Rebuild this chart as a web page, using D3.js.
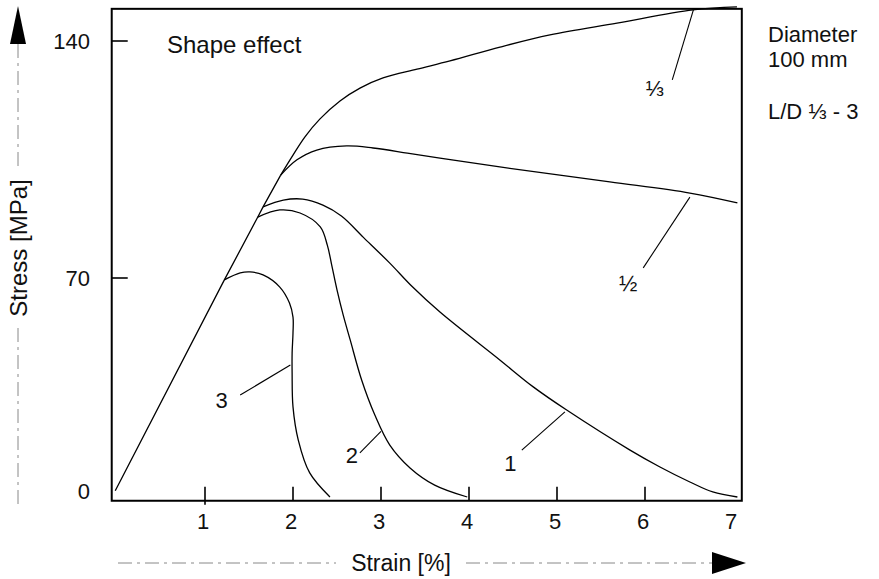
<!DOCTYPE html>
<html>
<script src="https://d3js.org/d3.v7.min.js"></script>
<style>
  body { margin: 0; background: #fff; }
  text { font-family: "Liberation Sans", Arial, sans-serif; fill: #111; }
</style>
<body>
<div id="chart"></div>

<script>
    // values (strain in %, stress in MPa)
    var strainTicks = [1, 2, 3, 4, 5, 6, 7];
    var stressTicks = [0, 70, 140];

    // shared elastic rise, branch points are on it
    var elastic = [[-0.02, 2], [1.22, 69.4], [1.60, 88.0], [1.66, 91.0], [1.86, 100.4]];

    var curve3 = [[1.22, 69.4], [1.40, 71.5], [1.51, 71.8], [1.66, 70.9], [1.85, 67.1], [1.96, 62.0],
        [2.0, 57.5], [2.0, 52.4], [1.99, 46.0], [1.99, 39.6], [2.0, 28.8], [2.06, 18.2], [2.19, 7.7], [2.42, 0]];
    var curve2 = [[1.60, 88.0], [1.85, 90.1], [2.08, 89.2], [2.31, 85.1], [2.39, 79.7], [2.44, 73.8],
        [2.50, 66.2], [2.57, 58.2], [2.65, 50.2], [2.78, 37.4], [2.93, 26.2], [3.10, 16.6], [3.33, 9.3],
        [3.61, 3.8], [3.98, 0]];
    var curve1 = [[1.66, 91.0], [1.89, 93.0], [2.11, 93.3], [2.34, 91.5], [2.55, 88.3], [2.80, 82.0],
        [3.10, 74.4], [3.36, 67.1], [3.67, 59.1], [4.35, 43.8], [4.73, 35.2], [5.11, 27.8],
        [5.83, 15.0], [6.17, 9.6], [6.51, 4.8], [6.77, 1.6], [7.05, 0]];
    var curveHalf = [[1.86, 100.4], [2.045, 104.9], [2.27, 107.8], [2.61, 109.0], [2.91, 108.4],
        [3.30, 106.9], [3.67, 105.4], [4.35, 102.8], [5.60, 98.4], [6.51, 95.1], [7.05, 92.2]];
    var curveThird = [[1.86, 100.4], [2.0, 106.3], [2.136, 111.7], [2.307, 117.0], [2.534, 122.3],
        [2.761, 126.1], [3.023, 129.1], [3.409, 131.7], [3.784, 134.1], [4.352, 138.2], [4.92, 141.8],
        [5.682, 145.3], [6.545, 149.2], [7.045, 150.1]];

    // curve labels: text, label position, leader from / to
    var curveLabels = ["\u2153", "\u00bd", "1", "2", "3"];
    var labelAt = [[6.11, 126.1], [5.81, 68.4], [4.47, 10.9], [2.67, 13.4], [1.19, 31.0]];
    var leaderFrom = [[6.31, 128.5], [5.98, 73.0], [4.60, 15.0], [2.76, 14.1], [1.40, 32.6]];
    var leaderTo = [[6.55, 149.2], [6.51, 93.9], [5.09, 27.2], [3.0, 21.0], [1.97, 42.2]];

    var width = 879, height = 579;

    var svg = d3.select("#chart")
        .append("svg")
        .attr("width", width)
        .attr("height", height);

    var x = d3.scaleLinear().domain([0, 7]).range([117, 733]);
    // the printed stress axis is not evenly spaced, so piecewise
    var y = d3.scaleLinear().domain([0, 70, 140]).range([497, 278, 41]);

    var x0 = x(-0.06), x1 = x(7.1), y0 = y(-1.2), y1 = y(149.5);

    // frame
    svg.append("rect")
        .attr("x", x0).attr("y", y1)
        .attr("width", x1 - x0).attr("height", y0 - y1)
        .attr("fill", "none").attr("stroke", "#000").attr("stroke-width", 2);

    // inward ticks
    svg.selectAll(".xtick")
        .data(strainTicks.filter(d => d < 7))
        .join("line")
        .attr("x1", d => x(d)).attr("x2", d => x(d))
        .attr("y1", d => d === 1 ? y0 + 4 : y0).attr("y2", y0 - 14)
        .attr("stroke", "#000").attr("stroke-width", 1.6);

    svg.selectAll(".ytick")
        .data(stressTicks.filter(d => d > 0))
        .join("line")
        .attr("x1", x0).attr("x2", x0 + 16)
        .attr("y1", d => y(d)).attr("y2", d => y(d))
        .attr("stroke", "#000").attr("stroke-width", 1.6);

    svg.selectAll(".xlab")
        .data(strainTicks)
        .join("text")
        .attr("x", d => x(d) - 2)
        .attr("y", y0 + 28)
        .attr("text-anchor", "middle")
        .attr("font-size", 22)
        .text(d => d);

    svg.selectAll(".ylab")
        .data(stressTicks)
        .join("text")
        .attr("x", 90)
        .attr("y", d => y(d) + (d === 0 ? 2 : 8))
        .attr("text-anchor", "end")
        .attr("font-size", 22)
        .text(d => d);

    // curves
    var line = d3.line()
        .x(d => x(d[0]))
        .y(d => y(d[1]))
        .curve(d3.curveCatmullRom.alpha(0.5));

    svg.append("path")
        .attr("d", d3.line().x(d => x(d[0])).y(d => y(d[1]))(elastic))
        .attr("fill", "none").attr("stroke", "#000").attr("stroke-width", 1.3);

    [curve3, curve2, curve1, curveHalf, curveThird].forEach(function (c) {
        svg.append("path")
            .attr("d", line(c))
            .attr("fill", "none").attr("stroke", "#000").attr("stroke-width", 1.3);
    });

    // leaders + labels
    curveLabels.forEach(function (t, i) {
        svg.append("line")
            .attr("x1", x(leaderFrom[i][0])).attr("y1", y(leaderFrom[i][1]))
            .attr("x2", x(leaderTo[i][0])).attr("y2", y(leaderTo[i][1]))
            .attr("stroke", "#000").attr("stroke-width", 1.1);
        svg.append("text")
            .attr("x", x(labelAt[i][0]))
            .attr("y", y(labelAt[i][1]) + 8)
            .attr("text-anchor", "middle")
            .attr("font-size", 22)
            .text(t);
    });

    // annotations
    svg.append("text").attr("x", 167).attr("y", 53).attr("font-size", 24).text("Shape effect");
    svg.append("text").attr("x", 768).attr("y", 42).attr("font-size", 22).text("Diameter");
    svg.append("text").attr("x", 768).attr("y", 67).attr("font-size", 22).text("100 mm");
    svg.append("text").attr("x", 768).attr("y", 119).attr("font-size", 22).text("L/D \u2153 - 3");

    // axis titles with dashed arrows
    svg.append("text")
        .attr("transform", "translate(27,248) rotate(-90)")
        .attr("text-anchor", "middle")
        .attr("font-size", 24)
        .text("Stress [MPa]");

    var dash = { stroke: "#888", "stroke-width": 1, "stroke-dasharray": "14,5,3,5" };
    function dashed(xa, ya, xb, yb) {
        var l = svg.append("line").attr("x1", xa).attr("y1", ya).attr("x2", xb).attr("y2", yb);
        Object.keys(dash).forEach(k => l.attr(k, dash[k]));
    }
    dashed(18, 44, 18, 168);
    dashed(18, 328, 18, 505);
    svg.append("path").attr("d", "M18,6L10,44L26,44Z").attr("fill", "#000");

    svg.append("text")
        .attr("x", 401).attr("y", 571)
        .attr("text-anchor", "middle")
        .attr("font-size", 23)
        .text("Strain [%]");
    dashed(118, 563, 336, 563);
    dashed(466, 563, 712, 563);
    svg.append("path").attr("d", "M712,552L712,574L746,563Z").attr("fill", "#000");
</script>

</body>
</html>
